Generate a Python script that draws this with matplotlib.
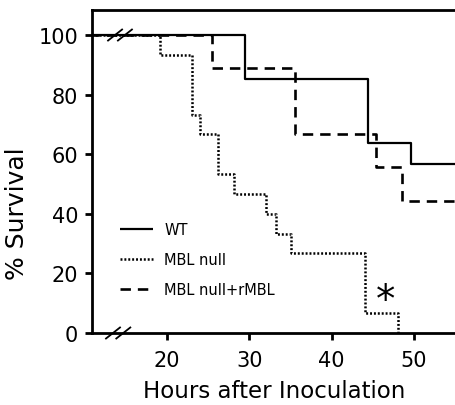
import numpy as np
import matplotlib.pyplot as plt
from matplotlib.ticker import MultipleLocator

plt.rcParams['lines.scale_dashes'] = False

# step times (hours) and survival (%)
wt_t = [0, 29.5, 44.4, 49.6, 60]
wt_s = [100, 85.2, 63.8, 56.7, 56.7]

null_t = [0, 19.2, 23.1, 24.0, 26.2, 28.1, 32.0, 33.2, 35.1, 44.0, 48.1]
null_s = [100, 93.3, 73.3, 66.7, 53.3, 46.7, 40.0, 33.3, 26.7, 6.7, 0]

rmbl_t = [0, 25.5, 35.5, 45.4, 48.6, 60]
rmbl_s = [100, 88.9, 66.7, 55.6, 44.4, 44.4]

xticks = [20, 30, 40, 50]
yticks = [0, 20, 40, 60, 80, 100]

fig = plt.figure(figsize=(4.56, 4.06), dpi=100)
ax = fig.add_axes([92 / 456, 1 - 334 / 406, 1 - 92 / 456, 323 / 406])

ax.step(wt_t, wt_s, where="post", color="black", lw=1.6,
        label="WT", solid_capstyle="butt")
ax.step(null_t, null_s, where="post", color="black", lw=1.8,
        linestyle=(0, (1.4, 1.4)), label="MBL null")
ax.step(rmbl_t, rmbl_s, where="post", color="black", lw=1.9,
        linestyle=(0, (7.5, 5)), label="MBL null+rMBL")

ax.set_xlim(10.9, 55.1)
ax.set_ylim(0, 108.4)
ax.set_xticks(xticks)
ax.set_yticks(yticks)

ax.spines["right"].set_visible(False)
for s in ["left", "bottom", "top"]:
    ax.spines[s].set_linewidth(2.0)
ax.tick_params(direction="out", length=5, width=2, labelsize=15)
ax.tick_params(axis="x", pad=7)
ax.tick_params(axis="y", pad=5)

ax.set_xlabel("Hours after Inoculation", fontsize=16.5)
ax.xaxis.set_label_coords(0.5, -0.142)
ax.set_ylabel("% Survival", fontsize=18)
ax.yaxis.set_label_coords(-0.172, 0.372)

ax.text(46.6, 11.0, "*", fontsize=28, ha="center", va="center")

leg = ax.legend(loc="lower left", bbox_to_anchor=(0.04, 0.07), frameon=False,
                fontsize=10.5, handlelength=2.3, labelspacing=1.05,
                handletextpad=0.75)

# axis break marks
for yv, xs in [(100, [13.7, 14.9]), (0, [13.45, 14.7])]:
    for xc in xs:
        ax.plot([xc - 0.85, xc + 0.85], [yv - 1.85, yv + 1.85],
                color="black", lw=1.3, clip_on=False, zorder=5)

plt.savefig("out.png", dpi=100)
